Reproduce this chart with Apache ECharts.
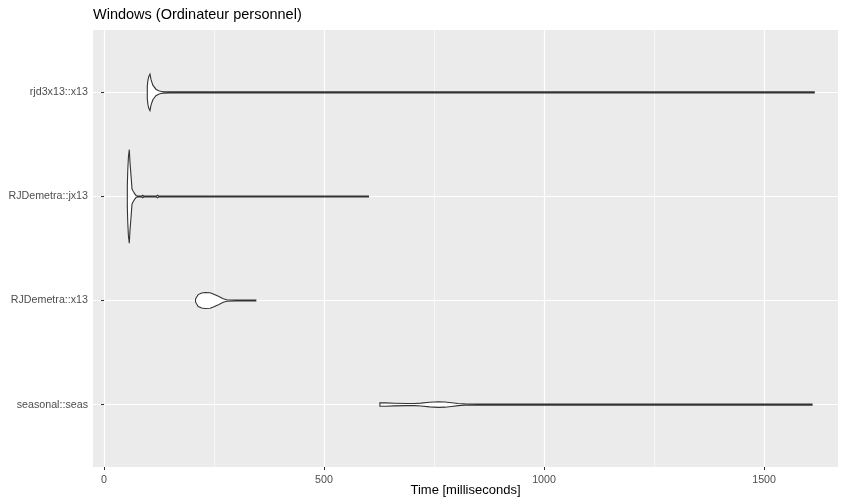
<!DOCTYPE html>
<html><head><meta charset="utf-8">
<script src="https://cdn.jsdelivr.net/npm/echarts@6/dist/echarts.min.js"></script>
<style>html,body{margin:0;padding:0;background:#fff}#c{width:846px;height:499px}</style>
</head><body><div id="c"></div>
<script>
// Categories, top to bottom
const categories = ['rjd3x13::x13', 'RJDemetra::jx13', 'RJDemetra::x13', 'seasonal::seas'];

// Violin outlines: time (ms) and half-width (category units)
const rjd3x13Time    = [98.4, 100, 102, 104.5, 107, 111, 118, 124, 129, 135, 150, 300, 600, 1000, 1300, 1614];
const rjd3x13Density = [0.06, 0.12, 0.155, 0.175, 0.12, 0.07, 0.031, 0.017, 0.011, 0.007, 0.005, 0.005, 0.005, 0.005, 0.005, 0.005];

const jx13Time    = [53, 54, 55.5, 57.5, 59, 61.4, 63.6, 65, 67, 70, 72.7, 76, 86, 88, 90, 119, 121.5, 124, 200, 400, 601];
const jx13Density = [0.1, 0.25, 0.38, 0.45, 0.33, 0.2, 0.074, 0.06, 0.045, 0.025, 0.01, 0.005, 0.005, 0.012, 0.005, 0.005, 0.012, 0.005, 0.005, 0.005, 0.005];

const x13Time    = [208, 210.6, 214, 222, 229.5, 241, 248.4, 260, 271, 279, 300, 345];
const x13Density = [0.014, 0.034, 0.057, 0.072, 0.077, 0.074, 0.062, 0.04, 0.017, 0.007, 0.005, 0.005];

const seasTime    = [627, 640, 660, 690, 705, 720, 740, 760, 775, 790, 805, 820, 850, 1000, 1300, 1609];
const seasDensity = [0.016, 0.016, 0.013, 0.01, 0.01, 0.014, 0.022, 0.027, 0.025, 0.018, 0.01, 0.007, 0.005, 0.005, 0.005, 0.005];

const xTicks = [0, 500, 1000, 1500];
const xMinorTicks = [250, 750, 1250];
const yTicks = [1, 2, 3, 4];

const violins = [
  {time: rjd3x13Time, density: rjd3x13Density},
  {time: jx13Time, density: jx13Density},
  {time: x13Time, density: x13Density},
  {time: seasTime, density: seasDensity}
];

const FONT = 'Liberation Sans, Arial, sans-serif';
const chart = echarts.init(document.getElementById('c'), null, {renderer: 'canvas'});

const option = {
  animation: false,
  backgroundColor: '#ffffff',
  title: {
    text: 'Windows (Ordinateur personnel)',
    left: 88, top: 2,
    textStyle: {fontFamily: FONT, fontSize: 14.5, fontWeight: 'normal', color: '#000'}
  },
  graphic: [{
    type: 'text', x: 465.5, y: 490, z: 10,
    style: {text: 'Time [milliseconds]', fontFamily: FONT, fontSize: 13, fill: '#000',
      textAlign: 'center', textVerticalAlign: 'middle'}
  }],
  grid: {left: 93, right: 8, top: 30, bottom: 32, show: true, backgroundColor: '#EBEBEB', borderWidth: 0,
    outerBoundsMode: 'none', containLabel: false},
  xAxis: [{
    type: 'value', min: -25, max: 1668, position: 'bottom',
    axisLine: {show: false},
    axisTick: {show: true, customValues: xTicks, length: 3, lineStyle: {color: '#333', width: 1}},
    axisLabel: {customValues: xTicks, fontFamily: FONT, fontSize: 10.7, color: '#4D4D4D', margin: 8,
      formatter: v => String(v)},
    splitLine: {show: true, lineStyle: {color: '#ffffff', width: 1.2}}
  }, {
    type: 'value', min: -25, max: 1668, position: 'top',
    axisLine: {show: false},
    axisTick: {show: false, customValues: xMinorTicks},
    axisLabel: {show: false, customValues: xMinorTicks},
    splitLine: {show: true, lineStyle: {color: '#ffffff', width: 0.6}}
  }],
  yAxis: {
    type: 'value', min: 0.4, max: 4.6, inverse: true,
    axisLine: {show: false},
    axisTick: {show: true, customValues: yTicks, length: 3, lineStyle: {color: '#333', width: 1}},
    axisLabel: {customValues: yTicks, fontFamily: FONT, fontSize: 10.7, color: '#4D4D4D', margin: 5,
      formatter: v => categories[Math.round(v) - 1] || ''},
    splitLine: {show: true, lineStyle: {color: '#ffffff', width: 1.2}}
  },
  series: [{
    type: 'custom',
    xAxisIndex: 0,
    data: categories.map((c, i) => [i]),
    encode: {x: -1, y: -1},
    renderItem: function (params, api) {
      const i = api.value(0);
      const v = violins[i];
      const c = i + 1;
      const pts = [];
      for (let k = 0; k < v.time.length; k++) pts.push(api.coord([v.time[k], c - v.density[k]]));
      for (let k = v.time.length - 1; k >= 0; k--) pts.push(api.coord([v.time[k], c + v.density[k]]));
      return {
        type: 'polygon',
        shape: {points: pts},
        style: {fill: '#ffffff', stroke: '#333333', lineWidth: 1.1}
      };
    }
  }]
};
chart.setOption(option);
</script></body></html>
